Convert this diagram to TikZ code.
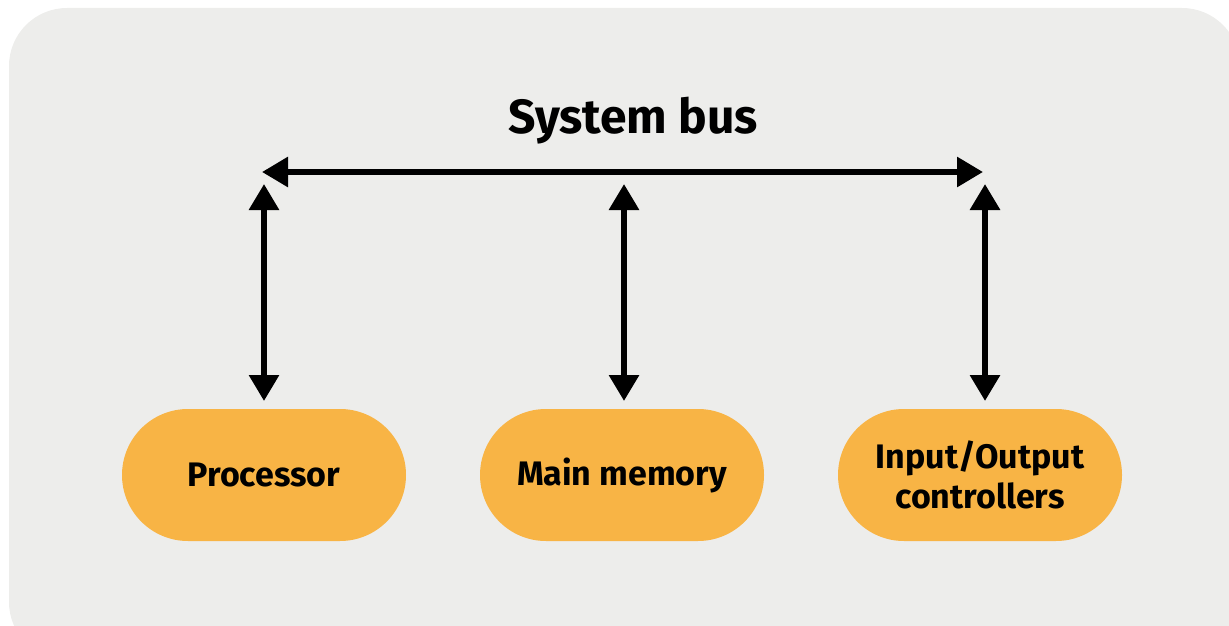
\documentclass[tikz,border=0pt]{standalone}
\usepackage{fontspec}
\setmainfont{Fira Sans}
\usetikzlibrary{arrows.meta}
\definecolor{panel}{HTML}{EDEDEB}
\definecolor{pill}{HTML}{F8B445}
\tikzset{
  unit/.style={rounded corners=66pt, fill=pill, minimum width=284pt, minimum height=132pt,
    align=center, font=\fontsize{34}{40}\selectfont\bfseries, inner sep=0pt},
  bus/.style={line width=6pt, {Triangle[length=26pt,width=29pt]}-{Triangle[length=26pt,width=29pt]}}
}
\begin{document}
\begin{tikzpicture}[x=1pt,y=-1pt]
  \useasboundingbox (0,0) rectangle (1229,626);
  \fill[panel, rounded corners=58pt] (9,8) rectangle (1240,660);
  \node[font=\fontsize{48}{54}\selectfont\bfseries] (title) at (633,121) {System bus};
  \node[unit] (cpu) at (264,475) {Processor};
  \node[unit] (mem) at (622,475) {Main memory};
  \node[unit] (io) at (980,475) {Input/Output\\controllers};
  \coordinate (busL) at (262,172);
  \coordinate (busR) at (983,172);
  \coordinate (cpuT) at (264,184);
  \coordinate (memT) at (624,184);
  \coordinate (ioT) at (985,184);
  \coordinate (cpuB) at (264,401);
  \coordinate (memB) at (624,401);
  \coordinate (ioB) at (985,401);
  \draw[bus] (busL) -- (busR);
  \draw[bus] (cpuT) -- (cpuB);
  \draw[bus] (memT) -- (memB);
  \draw[bus] (ioT) -- (ioB);
\end{tikzpicture}
\end{document}
